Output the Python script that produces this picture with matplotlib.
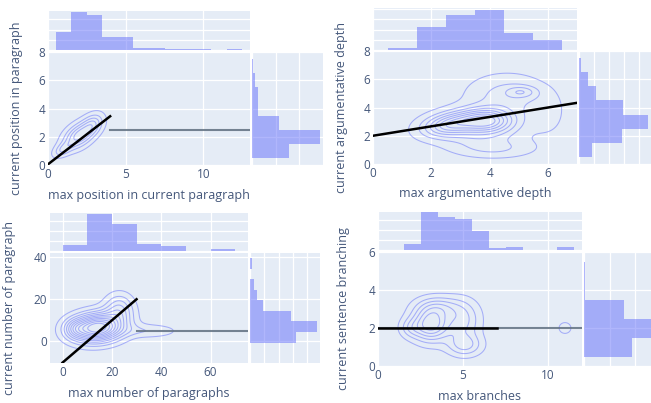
import numpy as np
import matplotlib.pyplot as plt

W, H = 651, 403
BG = '#E5ECF6'
BLUE = '#636EFA'
TXT = '#44577a'
GRAY = '#5f6f80'

plt.rcParams['font.family'] = ['Open Sans', 'DejaVu Sans']

# ---- panel 1: position in paragraph
p1_labels = ('max position in current paragraph', 'current position in paragraph')
p1_top_edges = [0.5, 1.5, 2.5, 3.5, 5.5, 7.5, 9.5, 10.5, 11.5, 12.5]
p1_top_counts = [53, 112, 102, 37, 7, 2, 4, 0, 3]
p1_right_edges = [0.5, 1.5, 2.5, 3.5, 5.5, 6.5, 7.5]
p1_right_counts = [110, 203, 81, 19, 8, 3]
p1_fit_x, p1_fit_y = [0, 4], [0.05, 3.45]
p1_flat_x, p1_flat_y = [4, 13], [2.45, 2.45]
# density blobs: cx, cy, sx, sy, rho, weight
p1_blobs = [(0.95, 1.1, 0.4, 0.35, 0.5, 0.45),
            (2.0, 2.1, 0.65, 0.62, 0.45, 1.0),
            (2.9, 2.9, 0.45, 0.5, 0.3, 0.55)]

# ---- panel 2: argumentative depth
p2_labels = ('max argumentative depth', 'current argumentative depth')
p2_top_edges = [0.5, 1.5, 2.5, 3.5, 4.5, 5.5, 6.5]
p2_top_counts = [6, 68, 103, 116, 50, 28]
p2_right_edges = [0.5, 1.5, 2.5, 3.5, 4.5, 5.5, 6.5, 7.5]
p2_right_counts = [40, 128, 207, 133, 50, 27, 5]
p2_fit_x, p2_fit_y = [0, 7], [2.0, 4.33]
p2_flat_x, p2_flat_y = [], []
p2_blobs = [(2.6, 2.8, 0.6, 0.55, 0.3, 0.7),
            (3.9, 3.1, 0.6, 0.55, 0.0, 0.9),
            (3.5, 2.5, 1.0, 0.8, 0.0, 0.4),
            (5.1, 5.1, 0.35, 0.28, 0.0, 0.3),
            (4.6, 4.8, 0.9, 1.0, 0.0, 0.3),
            (4.2, 1.1, 0.9, 0.45, 0.0, 0.22),
            (6.0, 3.5, 0.4, 1.0, 0.0, 0.12)]

# ---- panel 3: number of paragraphs
p3_labels = ('max number of paragraphs', 'current number of paragraph')
p3_top_edges = [0, 10, 20, 30, 40, 50, 60, 70]
p3_top_counts = [17, 112, 83, 20, 15, 0, 7]
p3_right_edges = [-0.5, 4.5, 9.5, 14.5, 19.5, 24.5, 29.5, 34.5, 39.5]
p3_right_counts = [138, 200, 123, 38, 22, 12, 0, 5]
p3_fit_x, p3_fit_y = [0, 30], [-10, 20]
p3_flat_x, p3_flat_y = [30, 75], [5, 5]
p3_blobs = [(14, 6.5, 7, 4.5, 0.1, 1.0),
            (23, 15.5, 4, 4.8, 0.0, 0.3),
            (35, 5, 8, 2.2, 0.0, 0.13),
            (5, 6, 3, 3, 0.0, 0.2)]

# ---- panel 4: branches
p4_labels = ('max branches', 'current sentence branching')
p4_top_edges = [1.5, 2.5, 3.5, 4.5, 5.5, 6.5, 7.5, 8.5, 9.5, 10.5, 11.5]
p4_top_counts = [18, 115, 100, 95, 58, 5, 9, 0, 0, 9]
p4_right_edges = [0.5, 1.5, 2.5, 3.5, 4.5, 5.5]
p4_right_counts = [144, 210, 120, 3, 3]
p4_fit_x, p4_fit_y = [0, 7], [2, 2]
p4_flat_x, p4_flat_y = [0, 12], [2, 2]
p4_blobs = [(3.1, 2.2, 0.75, 0.6, 0.0, 1.0),
            (3.6, 3.1, 0.9, 0.4, 0.0, 0.4),
            (5.1, 1.1, 0.7, 0.4, 0.0, 0.45),
            (5.0, 2.4, 0.7, 0.7, 0.0, 0.45),
            (1.9, 2.0, 0.45, 0.35, 0.0, 0.25),
            (11.0, 2.0, 0.27, 0.22, 0.0, 0.24)]

panels = [
    dict(labels=p1_labels, top=(p1_top_edges, p1_top_counts), right=(p1_right_edges, p1_right_counts),
         fit=(p1_fit_x, p1_fit_y), flat=(p1_flat_x, p1_flat_y), blobs=p1_blobs, lev=(0.1, 0.85, 5),
         box=(48, 52, 250, 165), topbox=(48, 11, 250, 50), rightbox=(252, 52, 323, 165),
         xlim=(0, 13), ylim=(0, 8), xticks=[0, 5, 10], yticks=[0, 2, 4, 6, 8],
         toplim=115, rightlim=213, rightstep=71, xlab_y=195, ylab_x=17),
    dict(labels=p2_labels, top=(p2_top_edges, p2_top_counts), right=(p2_right_edges, p2_right_counts),
         fit=(p2_fit_x, p2_fit_y), flat=(p2_flat_x, p2_flat_y), blobs=p2_blobs, lev=(0.06, 0.85, 8),
         box=(373, 51, 577, 164), topbox=(373, 8, 577, 50), rightbox=(579, 51, 652, 164),
         xlim=(0, 7), ylim=(0, 8), xticks=[0, 2, 4, 6], yticks=[0, 2, 4, 6, 8],
         toplim=123, rightlim=219, rightstep=45, xlab_y=193, ylab_x=341),
    dict(labels=p3_labels, top=(p3_top_edges, p3_top_counts), right=(p3_right_edges, p3_right_counts),
         fit=(p3_fit_x, p3_fit_y), flat=(p3_flat_x, p3_flat_y), blobs=p3_blobs, lev=(0.06, 0.9, 11),
         box=(50, 253, 248, 363), topbox=(50, 213, 248, 251), rightbox=(250, 253, 320, 363),
         xlim=(-5.1, 75.2), ylim=(-10.2, 41.9), xticks=[0, 20, 40, 60], yticks=[0, 20, 40],
         toplim=115, rightlim=210, rightstep=43, xlab_y=393, ylab_x=10),
    dict(labels=p4_labels, top=(p4_top_edges, p4_top_counts), right=(p4_right_edges, p4_right_counts),
         fit=(p4_fit_x, p4_fit_y), flat=(p4_flat_x, p4_flat_y), blobs=p4_blobs, lev=(0.1, 0.85, 6),
         box=(378, 252, 582, 366), topbox=(378, 212, 582, 250), rightbox=(584, 252, 656, 366),
         xlim=(0, 12), ylim=(0, 6), xticks=[0, 5, 10], yticks=[0, 2, 4, 6],
         toplim=115, rightlim=216, rightstep=77, xlab_y=397, ylab_x=344),
]


def add_box(fig, box):
    l, t, r, b = box
    return fig.add_axes([l / W, 1 - b / H, (r - l) / W, (b - t) / H])


def style(ax):
    ax.set_facecolor(BG)
    for s in ax.spines.values():
        s.set_visible(False)
    ax.grid(True, color='white', lw=0.9)
    ax.set_axisbelow(True)
    ax.tick_params(length=0, labelsize=8.5, labelcolor=TXT, pad=2)


def density(blobs, X, Y):
    Z = np.zeros_like(X)
    for cx, cy, sx, sy, rho, w in blobs:
        dx, dy = (X - cx) / sx, (Y - cy) / sy
        q = (dx ** 2 - 2 * rho * dx * dy + dy ** 2) / (1 - rho ** 2)
        Z += w * np.exp(-0.5 * q)
    return Z


fig = plt.figure(figsize=(W / 100, H / 100), dpi=100)

for p in panels:
    ax = add_box(fig, p['box'])
    style(ax)
    ax.set_xlim(*p['xlim'])
    ax.set_ylim(*p['ylim'])
    ax.set_xticks(p['xticks'])
    ax.set_yticks(p['yticks'])

    xs = np.linspace(p['xlim'][0], p['xlim'][1], 300)
    ys = np.linspace(p['ylim'][0], p['ylim'][1], 300)
    X, Y = np.meshgrid(xs, ys)
    Z = density(p['blobs'], X, Y)
    lo, hi, n = p['lev']
    levels = Z.max() * np.linspace(lo, hi, n)
    ax.contour(X, Y, Z, levels=levels, colors=BLUE, linewidths=0.75, alpha=0.5)

    if p['flat'][0]:
        ax.plot(*p['flat'], color=GRAY, lw=1.5, alpha=0.85)
    ax.plot(*p['fit'], color='black', lw=1.8)

    l, t, r, b = p['box']
    ax.set_xlabel(p['labels'][0], fontsize=9, color=TXT, va='center')
    ax.xaxis.set_label_coords(0.5, -(p['xlab_y'] - b) / (b - t))
    ax.set_ylabel(p['labels'][1], fontsize=9, color=TXT, va='center')
    ax.yaxis.set_label_coords(-(l - p['ylab_x']) / (r - l), 0.5)

    # top marginal histogram
    axt = add_box(fig, p['topbox'])
    style(axt)
    edges, counts = p['top']
    axt.stairs(counts, edges, fill=True, color=BLUE, alpha=0.5, lw=0)
    axt.set_xlim(*p['xlim'])
    axt.set_ylim(0, p['toplim'])
    axt.set_xticks(p['xticks'])
    axt.set_yticks(np.arange(0, p['toplim'], 30))
    axt.tick_params(labelbottom=False, labelleft=False)

    # right marginal histogram
    axr = add_box(fig, p['rightbox'])
    style(axr)
    edges, counts = p['right']
    axr.stairs(counts, edges, fill=True, color=BLUE, alpha=0.5, lw=0, orientation='horizontal')
    axr.set_ylim(*p['ylim'])
    axr.set_xlim(0, p['rightlim'])
    axr.set_yticks(p['yticks'])
    axr.set_xticks(np.arange(0, p['rightlim'], p['rightstep']))
    axr.tick_params(labelbottom=False, labelleft=False)

fig.savefig('out.png', dpi=100)
